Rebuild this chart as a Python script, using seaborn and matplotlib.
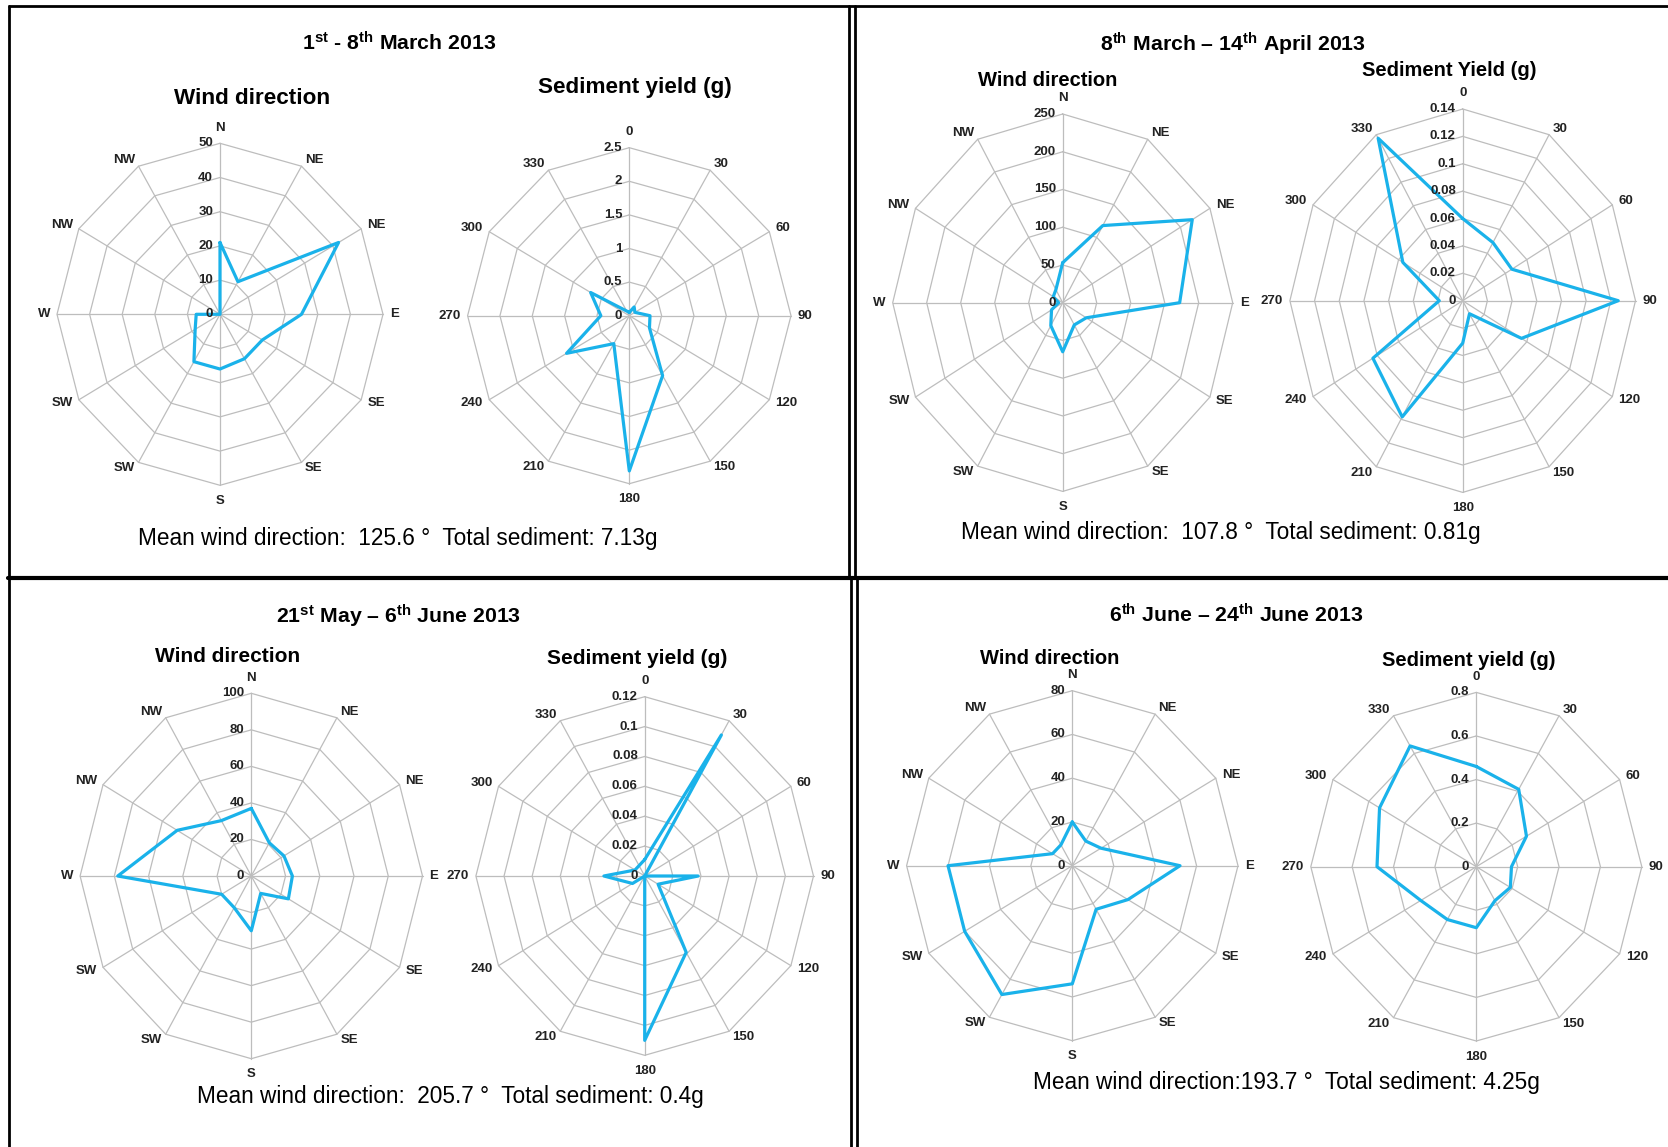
import numpy as np
import pandas as pd
import matplotlib
matplotlib.use("Agg")
import matplotlib.pyplot as plt
import seaborn as sns

# ---------------- data ----------------
wind_labels = ["N", "NE", "NE", "E", "SE", "SE", "S", "SW", "SW", "W", "NW", "NW"]
sed_labels = ["0", "30", "60", "90", "120", "150", "180", "210", "240", "270", "300", "330"]

wind_p1 = [21, 11, 42, 25, 15, 15, 16, 16, 8.8, 7.3, 0, 0]
sed_p1 = [0.05, 0.15, 0.10, 0.32, 0.36, 1.03, 2.31, 0.48, 1.12, 0.44, 0.69, 0.08]
wind_p2 = [53, 118, 220, 172, 40, 34, 65, 35, 19, 6, 16, 20]
sed_p2 = [0.060, 0.049, 0.046, 0.126, 0.055, 0.011, 0.031, 0.098, 0.084, 0.019, 0.056, 0.137]
wind_p3 = [37, 21, 22, 24, 25, 11, 30, 20, 20, 78, 50, 35]
sed_p3 = [0.011, 0.109, 0.0, 0.038, 0.011, 0.059, 0.110, 0.0, 0.010, 0.029, 0.008, 0.008]
wind_p4 = [20, 13, 16, 52, 31, 23, 54, 68, 60, 60, 11, 11]
sed_p4 = [0.46, 0.41, 0.28, 0.17, 0.19, 0.18, 0.28, 0.28, 0.31, 0.48, 0.54, 0.64]

wind_ticks_p1 = ["0", "10", "20", "30", "40", "50"]
sed_ticks_p1 = ["0", "0.5", "1", "1.5", "2", "2.5"]
wind_ticks_p2 = ["0", "50", "100", "150", "200", "250"]
sed_ticks_p2 = ["0", "0.02", "0.04", "0.06", "0.08", "0.1", "0.12", "0.14"]
wind_ticks_p3 = ["0", "20", "40", "60", "80", "100"]
sed_ticks_p3 = ["0", "0.02", "0.04", "0.06", "0.08", "0.1", "0.12"]
wind_ticks_p4 = ["0", "20", "40", "60", "80"]
sed_ticks_p4 = ["0", "0.2", "0.4", "0.6", "0.8"]

panel_titles = [r"1$^{\rm st}$ - 8$^{\rm th}$ March 2013",
                r"8$^{\rm th}$ March – 14$^{\rm th}$ April 2013",
                r"21$^{\rm st}$ May – 6$^{\rm th}$ June 2013",
                r"6$^{\rm th}$ June – 24$^{\rm th}$ June 2013"]
sed_titles = ["Sediment yield (g)", "Sediment Yield (g)", "Sediment yield (g)", "Sediment yield (g)"]
mean_dir = ["125.6", "107.8", "205.7", "193.7"]
total_sed = ["7.13", "0.81", "0.4", "4.25"]

# ---------------- style ----------------
sns.set_theme(style="white")
FAM = ["Liberation Sans Narrow", "Liberation Sans", "DejaVu Sans"]
plt.rcParams["font.family"] = FAM
plt.rcParams["mathtext.fontset"] = "custom"
plt.rcParams["mathtext.rm"] = "Liberation Sans:bold"
plt.rcParams["mathtext.it"] = "Liberation Sans:bold"
plt.rcParams["mathtext.bf"] = "Liberation Sans:bold"

W, H = 1668, 1147
fig = plt.figure(figsize=(W / 100, H / 100), dpi=100)
fig.patch.set_facecolor("white")
bg = fig.add_axes([0, 0, 1, 1])
bg.set_xlim(0, W)
bg.set_ylim(H, 0)
bg.axis("off")

GRID = "#bdbdbd"
BLUE = "#1ab2ea"
TICK_FS = 9.5


def radar(cx, cy, rx, ry, values, ticks, cats):
    k = 1.45
    lx, ly = rx * k, ry * k
    ax = fig.add_axes([(cx - lx) / W, (H - cy - ly) / H, 2 * lx / W, 2 * ly / H])
    n = len(ticks) - 1
    vmax = float(ticks[-1])
    th = np.deg2rad(np.arange(12) * 30)
    sx, sy = np.sin(th), np.cos(th)
    for j in range(1, n + 1):
        f = j / n
        ax.plot(np.append(sx, sx[0]) * f, np.append(sy, sy[0]) * f,
                color=GRID, lw=0.9, zorder=1)
    for i in range(12):
        ax.plot([0, sx[i]], [0, sy[i]], color=GRID, lw=0.9, zorder=1)
    r = np.asarray(values, dtype=float) / vmax
    df = pd.DataFrame({"x": np.append(r * sx, r[0] * sx[0]),
                       "y": np.append(r * sy, r[0] * sy[0])})
    sns.lineplot(data=df, x="x", y="y", sort=False, estimator=None, ax=ax,
                 color=BLUE, lw=2.3, zorder=3)
    ax.set_xlim(-k, k)
    ax.set_ylim(-k, k)
    ax.axis("off")
    for j, lab in enumerate(ticks):
        ax.annotate(lab, (0, j / n), xytext=(-5, 0), textcoords="offset points",
                    ha="right", va="center", fontsize=TICK_FS, fontweight="bold",
                    color="#222222", zorder=4)
    for i, lab in enumerate(cats):
        if abs(sx[i]) < 0.1:
            ha = "center"
            va = "bottom" if sy[i] > 0 else "top"
            off = (0, 7 if sy[i] > 0 else -7)
        else:
            ha = "left" if sx[i] > 0 else "right"
            va = "center"
            off = (sx[i] * 5, sy[i] * 5)
        ax.annotate(lab, (sx[i], sy[i]), xytext=off, textcoords="offset points",
                    ha=ha, va=va, fontsize=TICK_FS, fontweight="bold", color="#222222")
    return ax


# ---------------- radars ----------------
radar(220.0, 314.3, 163.0, 171.0, wind_p1, wind_ticks_p1, wind_labels)
radar(629.3, 315.7, 161.7, 168.0, sed_p1, sed_ticks_p1, sed_labels)
radar(1062.7, 302.7, 170.0, 188.7, wind_p2, wind_ticks_p2, wind_labels)
radar(1462.7, 300.7, 172.8, 191.7, sed_p2, sed_ticks_p2, sed_labels)
radar(251.3, 876.0, 171.2, 182.7, wind_p3, wind_ticks_p3, wind_labels)
radar(644.7, 876.0, 168.8, 179.3, sed_p3, sed_ticks_p3, sed_labels)
radar(1072.3, 865.7, 165.7, 175.0, wind_p4, wind_ticks_p4, wind_labels)
radar(1476.3, 866.7, 165.5, 174.3, sed_p4, sed_ticks_p4, sed_labels)

# ---------------- texts ----------------
title_pos = [(399, 43), (1233, 44), (399, 616), (1236, 615)]
wind_sub_pos = [(252, 99), (1048, 80), (228, 657), (1050, 658)]
sed_sub_pos = [(635, 88), (1449, 71), (637, 658), (1469, 660)]
stats_pos = [(398, 538), (1221, 532), (450, 1097), (1286, 1083)]
sub_size = [16.2, 14.5, 15, 14.5]

for p in range(4):
    bg.text(*title_pos[p], panel_titles[p], ha="center", va="center",
            fontsize=15.3, fontweight="bold", color="black")
    bg.text(*wind_sub_pos[p], "Wind direction", ha="center", va="center",
            fontsize=sub_size[p], fontweight="bold", color="black")
    bg.text(*sed_sub_pos[p], sed_titles[p], ha="center", va="center",
            fontsize=sub_size[p], fontweight="bold", color="black")
    sep = "" if p == 3 else "  "
    bg.text(*stats_pos[p],
            f"Mean wind direction:{sep}{mean_dir[p]} °  Total sediment: {total_sed[p]}g",
            ha="center", va="center", fontsize=16.3, color="black")

# ---------------- borders ----------------
LW = 2.0
bg.plot([8, W], [6, 6], color="black", lw=LW, solid_capstyle="butt")
bg.plot([9, 9], [6, H], color="black", lw=LW)
bg.plot([849, 849], [6, 578], color="black", lw=LW)
bg.plot([855, 855], [6, 578], color="black", lw=LW)
bg.plot([8, W], [578, 578], color="black", lw=3.0)
bg.plot([851, 851], [578, H], color="black", lw=LW)
bg.plot([857, 857], [578, H], color="black", lw=LW)

fig.savefig("out.png", dpi=100, facecolor="white")
